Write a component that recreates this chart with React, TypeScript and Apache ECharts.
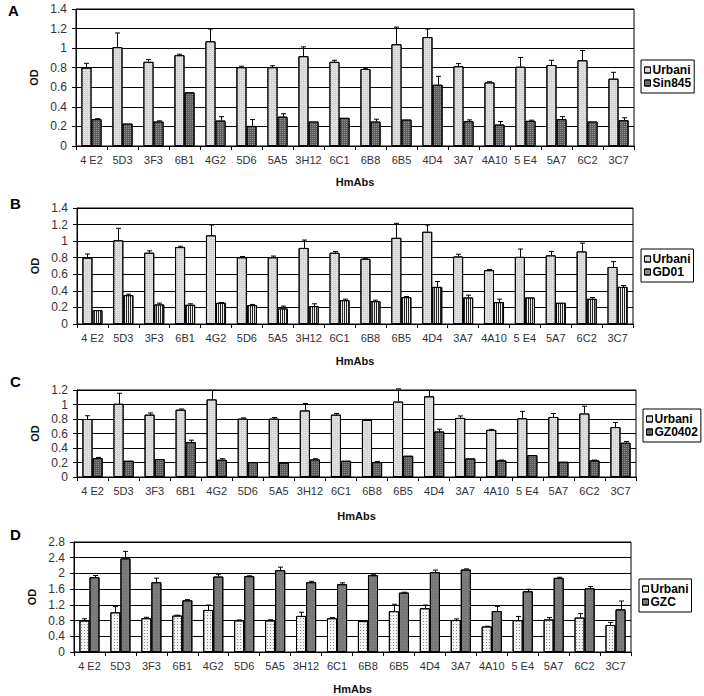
import React, { useEffect, useRef } from "react";
import * as echarts from "echarts";

const categories = ["4 E2", "5D3", "3F3", "6B1", "4G2", "5D6", "5A5", "3H12", "6C1", "6B8", "6B5", "4D4", "3A7", "4A10", "5 E4", "5A7", "6C2", "3C7"];

const urbani = [0.8, 1.01, 0.86, 0.928, 1.07, 0.805, 0.805, 0.918, 0.86, 0.787, 1.04, 1.113, 0.815, 0.65, 0.81, 0.828, 0.876, 0.688];
const urbaniErr = [0.045, 0.145, 0.023, 0.01, 0.125, 0.01, 0.015, 0.095, 0.016, 0.007, 0.175, 0.082, 0.027, 0.007, 0.095, 0.048, 0.1, 0.065];

const sin845 = [0.274, 0.229, 0.25, 0.548, 0.26, 0.205, 0.3, 0.25, 0.288, 0.25, 0.27, 0.626, 0.253, 0.219, 0.257, 0.274, 0.25, 0.264];
const sin845Err = [0.005, 0, 0.007, 0, 0.04, 0.065, 0.03, 0, 0, 0.024, 0, 0.086, 0.014, 0.031, 0.007, 0.026, 0, 0.024];

const gd01 = [0.168, 0.348, 0.236, 0.232, 0.256, 0.228, 0.188, 0.216, 0.288, 0.276, 0.324, 0.448, 0.32, 0.264, 0.32, 0.256, 0.304, 0.448];
const gd01Err = [0, 0.012, 0.016, 0.012, 0.004, 0.008, 0.028, 0.028, 0.012, 0.012, 0.008, 0.064, 0.028, 0.036, 0, 0, 0.016, 0.016];

const gz0402 = [0.261, 0.224, 0.247, 0.481, 0.238, 0.206, 0.2, 0.243, 0.224, 0.206, 0.293, 0.628, 0.256, 0.229, 0.302, 0.21, 0.229, 0.472];
const gz0402Err = [0.009, 0, 0, 0.027, 0.014, 0, 0, 0.009, 0, 0.009, 0, 0.032, 0, 0.005, 0, 0, 0.005, 0.018];

const gzc = [1.904, 2.383, 1.776, 1.315, 1.921, 1.93, 2.084, 1.776, 1.725, 1.956, 1.512, 2.032, 2.1, 1.042, 1.546, 1.887, 1.622, 1.085];
const gzcErr = [0.043, 0.179, 0.103, 0.017, 0.06, 0.01, 0.076, 0.024, 0.035, 0.01, 0.01, 0.052, 0.015, 0.119, 0.051, 0.015, 0.043, 0.213];

const panelLetters = ["A", "B", "C", "D"];
const yMax = [1.4, 1.4, 1.2, 2.8];
const yStep = [0.2, 0.2, 0.2, 0.4];
const secondNames = ["Sin845", "GD01", "GZ0402", "GZC"];
const secondValues = [sin845, gd01, gz0402, gzc];
const secondErrs = [sin845Err, gd01Err, gz0402Err, gzcErr];

const FONT = "'Liberation Sans', Arial, sans-serif";

const grids = [
  { left: 76, top: 9, width: 558, height: 137 },
  { left: 77, top: 208, width: 556, height: 116 },
  { left: 77, top: 390, width: 559, height: 87 },
  { left: 74, top: 542, width: 557, height: 110 },
];
const xNameGap = [30, 31, 33, 31];
const yNameGap = [34, 33, 31, 33];
const legendPos = [
  { left: 641, top: 60 },
  { left: 641, top: 249 },
  { left: 643, top: 409 },
  { left: 639, top: 579 },
];
const letterPos = [
  { x: 8, y: 11 },
  { x: 10, y: 204 },
  { x: 10, y: 382 },
  { x: 10, y: 535 },
];

const urbaniStyle = {
  color: "#d4d4d4",
  borderColor: "#000",
  borderWidth: 1,
  decal: { symbol: "rect", symbolSize: 1, dashArrayX: [1, 1], dashArrayY: [1, 1], color: "rgba(255,255,255,0.55)" },
};
const urbaniDStyle = {
  color: "#f4f4f4",
  borderColor: "#000",
  borderWidth: 1,
  decal: { symbol: "rect", symbolSize: 1, dashArrayX: [1, 2], dashArrayY: [1, 2], color: "#8a8a8a" },
};
const secondStyles = [
  { color: "#5c5c5c", borderColor: "#000", borderWidth: 1, decal: { symbol: "rect", symbolSize: 1, dashArrayX: [1, 1], dashArrayY: [1, 1], color: "rgba(255,255,255,0.35)" } },
  { color: "#eeeeee", borderColor: "#000", borderWidth: 1, decal: { symbol: "rect", symbolSize: 1, dashArrayX: [1, 1], dashArrayY: [1, 0], color: "#222" } },
  { color: "#5a5a5a", borderColor: "#000", borderWidth: 1, decal: { symbol: "rect", symbolSize: 1, dashArrayX: [1, 1], dashArrayY: [1, 1], color: "rgba(255,255,255,0.3)" } },
  { color: "#7c7c7c", borderColor: "#000", borderWidth: 1, decal: { symbol: "rect", symbolSize: 1, dashArrayX: [1, 2], dashArrayY: [1, 2], color: "rgba(0,0,0,0.15)" } },
];

function errRender(side: number) {
  return (params: any, api: any) => {
    const i = api.value(0);
    const v = api.value(1);
    const t = api.value(2);
    if (!(t > v)) return { type: "group", children: [] };
    const w = api.size([1, 0])[0];
    const p0 = api.coord([i, v]);
    const p1 = api.coord([i, t]);
    const x = Math.round(p0[0] + side * w * 0.1625) + 0.5;
    const st = { stroke: "#000", lineWidth: 1 };
    return {
      type: "group",
      children: [
        { type: "line", shape: { x1: x, y1: p0[1], x2: x, y2: p1[1] }, style: st },
        { type: "line", shape: { x1: x - 2.5, y1: p1[1], x2: x + 2.5, y2: p1[1] }, style: st },
      ],
    };
  };
}

export default function App() {
  const ref = useRef<HTMLDivElement>(null);
  useEffect(() => {
    if (!ref.current) return;
    const chart = echarts.init(ref.current, undefined, { renderer: "svg" });
    const xAxis: any[] = [];
    const yAxis: any[] = [];
    const series: any[] = [];
    const legend: any[] = [];
    const graphic: any[] = [];
    for (let p = 0; p < 4; p++) {
      xAxis.push({
        type: "category",
        gridIndex: p,
        data: categories,
        name: "HmAbs",
        nameLocation: "middle",
        nameGap: xNameGap[p],
        nameTextStyle: { fontFamily: FONT, fontSize: 11, fontWeight: "bold", color: "#111" },
        axisLine: { lineStyle: { color: "#000", width: 1 } },
        axisTick: { show: true, length: 4, lineStyle: { color: "#000" } },
        axisLabel: { fontFamily: FONT, fontSize: 11, color: "#333", margin: 8, interval: 0 },
      });
      yAxis.push({
        type: "value",
        gridIndex: p,
        min: 0,
        max: yMax[p],
        interval: yStep[p],
        name: "OD",
        nameLocation: "middle",
        nameGap: yNameGap[p],
        nameTextStyle: { fontFamily: FONT, fontSize: 11, fontWeight: "bold", color: "#111" },
        axisLine: { show: true, lineStyle: { color: "#000", width: 1 } },
        axisTick: { show: true, length: 4, lineStyle: { color: "#000" } },
        axisLabel: { fontFamily: FONT, fontSize: 12, color: "#333", margin: 9 },
        splitLine: { show: true, lineStyle: { color: "#000", width: 1 } },
      });
      const uStyle = p === 3 ? urbaniDStyle : urbaniStyle;
      series.push({
        type: "bar",
        name: "Urbani",
        xAxisIndex: p,
        yAxisIndex: p,
        data: urbani,
        barGap: "0%",
        barCategoryGap: "35%",
        itemStyle: uStyle,
      });
      series.push({
        type: "bar",
        name: secondNames[p],
        xAxisIndex: p,
        yAxisIndex: p,
        data: secondValues[p],
        barGap: "0%",
        barCategoryGap: "35%",
        itemStyle: secondStyles[p],
      });
      series.push({
        type: "custom",
        xAxisIndex: p,
        yAxisIndex: p,
        z: 5,
        renderItem: errRender(-1),
        encode: { x: 0, y: [1, 2] },
        data: urbani.map((v, i) => [i, v, v + urbaniErr[i]]),
      });
      series.push({
        type: "custom",
        xAxisIndex: p,
        yAxisIndex: p,
        z: 5,
        renderItem: errRender(1),
        encode: { x: 0, y: [1, 2] },
        data: secondValues[p].map((v, i) => [i, v, v + secondErrs[p][i]]),
      });
      legend.push({
        orient: "vertical",
        left: legendPos[p].left,
        top: legendPos[p].top,
        selectedMode: false,
        backgroundColor: "#fff",
        borderColor: "#000",
        borderWidth: 1,
        borderRadius: 0,
        padding: [4, 3, 4, 3],
        itemGap: 1,
        itemWidth: 6,
        itemHeight: 6,
        icon: "rect",
        textStyle: { fontFamily: FONT, fontSize: 12, fontWeight: "bold", color: "#000", padding: [0, 0, 0, -3] },
        data: [
          { name: "Urbani", itemStyle: uStyle },
          { name: secondNames[p], itemStyle: secondStyles[p] },
        ],
      });
      graphic.push({
        type: "text",
        left: letterPos[p].x,
        top: letterPos[p].y - 8,
        style: { text: panelLetters[p], fontFamily: FONT, fontSize: 15, fontWeight: "bold", fill: "#000" },
      });
    }
    chart.setOption({
      animation: false,
      backgroundColor: "#fff",
      grid: grids.map((g) => ({ ...g, show: true, borderColor: "#000", borderWidth: 1, backgroundColor: "transparent" })),
      xAxis,
      yAxis,
      series,
      legend,
      graphic,
    });
    return () => chart.dispose();
  }, []);
  return (
    <div
      ref={ref}
      style={{ position: "fixed", left: 0, top: 0, width: 704, height: 696, background: "#fff" }}
    />
  );
}
